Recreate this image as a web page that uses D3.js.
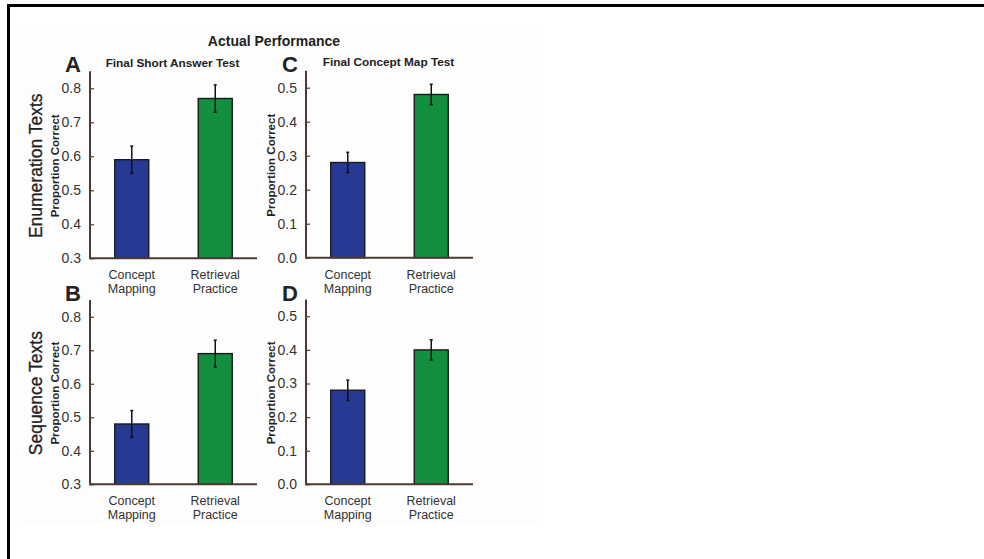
<!DOCTYPE html>
<html>
<head>
<meta charset="utf-8">
<script src="https://cdn.jsdelivr.net/npm/d3@7"></script>
<style>
  html, body { margin: 0; padding: 0; background: #fff; }
  svg { display: block; font-family: "Liberation Sans", Arial, Helvetica, sans-serif; }
</style>
</head>
<body>
<svg id="chart" width="984" height="559"></svg>
<script>
// ---- data ----
const categories = ["Concept Mapping", "Retrieval Practice"];
const categoryLines = [["Concept", "Mapping"], ["Retrieval", "Practice"]];
const enumShortAnswer = [0.59, 0.77];
const enumShortAnswerErr = [0.04, 0.04];
const enumConceptMap = [0.28, 0.48];
const enumConceptMapErr = [0.03, 0.03];
const seqShortAnswer = [0.48, 0.69];
const seqShortAnswerErr = [0.04, 0.04];
const seqConceptMap = [0.28, 0.40];
const seqConceptMapErr = [0.03, 0.03];
const shortAnswerTicks = [0.3, 0.4, 0.5, 0.6, 0.7, 0.8];
const conceptMapTicks = [0.0, 0.1, 0.2, 0.3, 0.4, 0.5];
const barColors = ["#273a93", "#138f40"];
const mainTitle = "Actual Performance";
const columnTitles = ["Final Short Answer Test", "Final Concept Map Test"];
const rowTitles = ["Enumeration Texts", "Sequence Texts"];
const panelLetters = ["A", "C", "B", "D"];
const yAxisLabel = "Proportion Correct";

// ---- layout ----
const svg = d3.select("#chart");
const axisColor = "#4d3a32";
const textColor = "#333";

// frame (cropped border)
svg.append("rect").attr("x", 0).attr("y", 0).attr("width", 984).attr("height", 559).attr("fill", "#fff");
svg.append("rect").attr("x", 22).attr("y", 26).attr("width", 520).attr("height", 498).attr("fill", "#fefdfd");
svg.append("line").attr("x1", 7).attr("x2", 984).attr("y1", 5.5).attr("y2", 5.5).attr("stroke", "#000").attr("stroke-width", 3);
svg.append("line").attr("x1", 8.5).attr("x2", 8.5).attr("y1", 4).attr("y2", 559).attr("stroke", "#000").attr("stroke-width", 3);

svg.append("text").attr("x", 274).attr("y", 46).attr("text-anchor", "middle")
  .attr("font-size", 14).attr("font-weight", "bold").attr("fill", "#222").text(mainTitle);

const panels = [
  { letter: panelLetters[0], vals: enumShortAnswer, errs: enumShortAnswerErr, ticks: shortAnswerTicks, domain: [0.3, 0.85],
    x0: 90, x1: 257, yTop: 71.3, yBot: 258.3, title: columnTitles[0], row: rowTitles[0] },
  { letter: panelLetters[1], vals: enumConceptMap, errs: enumConceptMapErr, ticks: conceptMapTicks, domain: [0, 0.55],
    x0: 306, x1: 473, yTop: 70.7, yBot: 257.7, title: columnTitles[1], row: null },
  { letter: panelLetters[2], vals: seqShortAnswer, errs: seqShortAnswerErr, ticks: shortAnswerTicks, domain: [0.3, 0.85],
    x0: 90, x1: 257, yTop: 300, yBot: 484.3, title: null, row: rowTitles[1] },
  { letter: panelLetters[3], vals: seqConceptMap, errs: seqConceptMapErr, ticks: conceptMapTicks, domain: [0, 0.55],
    x0: 306, x1: 473, yTop: 299.5, yBot: 484.3, title: null, row: null }
];

panels.forEach(p => {
  const g = svg.append("g");
  const x = d3.scalePoint().domain(categories).range([p.x0, p.x1]).padding(0.5);
  const y = d3.scaleLinear().domain(p.domain).range([p.yBot, p.yTop]);
  const barW = 34;
  const data = categories.map((c, i) => ({ c, i, v: p.vals[i], e: p.errs[i] }));

  // bars
  g.selectAll("rect.bar").data(data).join("rect")
    .attr("class", "bar")
    .attr("x", d => x(d.c) - barW / 2)
    .attr("y", d => y(d.v))
    .attr("width", barW)
    .attr("height", d => y(p.domain[0]) - y(d.v))
    .attr("fill", d => barColors[d.i])
    .attr("stroke", "#1a1a1a")
    .attr("stroke-width", 1.4);

  // error bars
  data.forEach(d => {
    const cx = x(d.c);
    g.append("line").attr("x1", cx).attr("x2", cx).attr("y1", y(d.v + d.e)).attr("y2", y(d.v - d.e))
      .attr("stroke", "#111").attr("stroke-width", 1.5);
    [d.v + d.e, d.v - d.e].forEach(t => {
      g.append("line").attr("x1", cx - 1.5).attr("x2", cx + 1.5).attr("y1", y(t)).attr("y2", y(t))
        .attr("stroke", "#111").attr("stroke-width", 1.5);
    });
  });

  // y axis
  const yAxis = d3.axisLeft(y).tickValues(p.ticks).tickFormat(d3.format(".1f")).tickSizeInner(-4).tickSizeOuter(0).tickPadding(9);
  const ya = g.append("g").attr("transform", `translate(${p.x0},0)`).call(yAxis);
  ya.select(".domain").remove();
  ya.selectAll(".tick line").attr("stroke", axisColor).attr("stroke-width", 1.2);
  ya.selectAll(".tick text").attr("font-size", 14).attr("fill", textColor)
    .attr("font-family", "'Liberation Sans', Arial, sans-serif");
  g.append("line").attr("x1", p.x0).attr("x2", p.x0).attr("y1", p.yTop).attr("y2", p.yBot)
    .attr("stroke", axisColor).attr("stroke-width", 2);
  g.append("line").attr("x1", p.x0 - 1).attr("x2", p.x1).attr("y1", p.yBot).attr("y2", p.yBot)
    .attr("stroke", axisColor).attr("stroke-width", 2);

  // category labels
  data.forEach(d => {
    const t = g.append("text").attr("x", x(d.c)).attr("text-anchor", "middle")
      .attr("font-size", 12.5).attr("fill", textColor);
    categoryLines[d.i].forEach((ln, k) => {
      t.append("tspan").attr("x", x(d.c)).attr("y", p.yBot + 21 + k * 14).text(ln);
    });
  });

  // y axis label
  const ymid = (p.yTop + p.yBot) / 2 + 1;
  g.append("text").attr("transform", `translate(${p.x0 - 31},${ymid}) rotate(-90)`)
    .attr("text-anchor", "middle").attr("font-size", 11.5).attr("font-weight", "bold").attr("fill", "#222")
    .text(yAxisLabel);

  // panel letter
  g.append("text").attr("x", p.x0 - (p.x0 === 90 ? 25 : 24)).attr("y", p.yTop + 1)
    .attr("font-size", 22).attr("font-weight", "bold").attr("fill", "#222").text(p.letter);

  if (p.title) {
    g.append("text").attr("x", (p.x0 + p.x1) / 2 - 1).attr("y", p.yTop - 4.5)
      .attr("text-anchor", "middle").attr("font-size", 11.8).attr("font-weight", "bold").attr("fill", "#222")
      .text(p.title);
  }
  if (p.row) {
    g.append("text").attr("transform", `translate(${p.x0 - 48},${ymid}) rotate(-90)`)
      .attr("text-anchor", "middle").attr("font-size", 17.5).attr("fill", "#222")
      .attr("stroke", "#222").attr("stroke-width", 0.3)
      .text(p.row);
  }
});
</script>
</body>
</html>
